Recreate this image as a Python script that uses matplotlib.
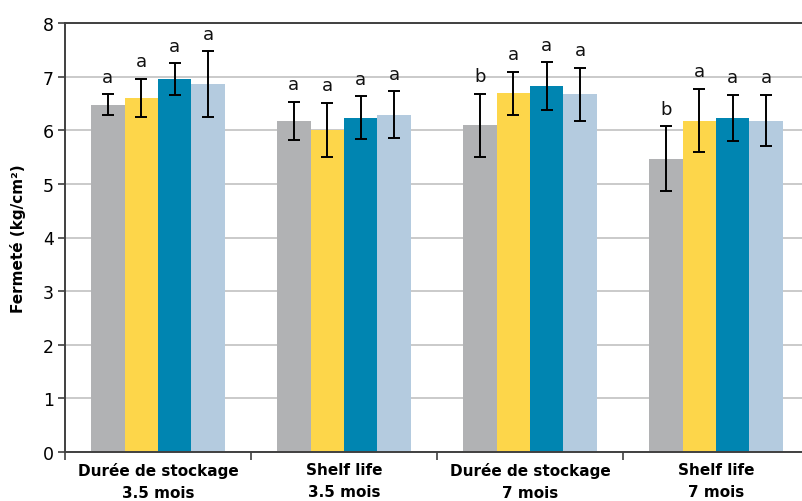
import numpy as np
import matplotlib.pyplot as plt

# fermeté moyenne par traitement (4 séries) et par période
categories = ["Durée de stockage\n3.5 mois", "Shelf life\n3.5 mois",
              "Durée de stockage\n7 mois", "Shelf life\n7 mois"]
serie1 = [6.48, 6.17, 6.09, 5.47]
serie2 = [6.60, 6.01, 6.69, 6.18]
serie3 = [6.95, 6.23, 6.82, 6.23]
serie4 = [6.86, 6.29, 6.67, 6.18]
err1 = [0.19, 0.36, 0.59, 0.60]
err2 = [0.36, 0.50, 0.40, 0.59]
err3 = [0.30, 0.40, 0.45, 0.43]
err4 = [0.61, 0.44, 0.50, 0.48]
lettres = [["a", "a", "a", "a"],
           ["a", "a", "a", "a"],
           ["b", "a", "a", "a"],
           ["b", "a", "a", "a"]]

series = [serie1, serie2, serie3, serie4]
errs = [err1, err2, err3, err4]
colors = ["#B1B2B4", "#FDD64A", "#0085B1", "#B4CBDF"]

fig = plt.figure(figsize=(8.03, 5.02), dpi=100)
ax = fig.add_axes([65/803, 1-453/502, (809-65)/803, (453-24)/502])

x = np.arange(len(categories))
w = 0.18
for i in range(4):
    pos = x + (i-1.5)*w
    ax.bar(pos, series[i], w, color=colors[i], zorder=2)
    ax.errorbar(pos, series[i], yerr=errs[i], fmt="none", ecolor="black",
                elinewidth=1.4, capsize=4, capthick=1.4, zorder=3)
    for j in range(len(categories)):
        ax.text(pos[j], series[i][j]+errs[i][j]+0.16, lettres[j][i],
                ha="center", va="bottom", fontsize=13, color="#111111")

ax.set_xlim(-0.5, 3.5)
ax.set_ylim(0, 8)
ax.set_yticks(range(0, 9))
ax.tick_params(axis="y", direction="out", length=5, width=1.2, color="#404040",
               labelsize=12.5, pad=3)
ax.yaxis.grid(True, color="#C6C6C6", linewidth=1.3, zorder=0)

# séparateurs entre catégories, libellés centrés
ax.set_xticks(np.arange(-0.5, 3.6, 1))
ax.set_xticklabels([])
ax.set_xticks(x, minor=True)
ax.set_xticklabels(categories, minor=True, fontsize=11, fontweight="bold",
                   linespacing=1.6)
ax.tick_params(axis="x", which="major", direction="out", length=6, width=1.2,
               color="#404040")
ax.tick_params(axis="x", which="minor", length=0, pad=7)

for s in ["left", "bottom", "top"]:
    ax.spines[s].set_color("#404040")
    ax.spines[s].set_linewidth(1.4)
ax.spines["right"].set_visible(False)

ax.set_ylabel("Fermeté (kg/cm²)", fontsize=11, fontweight="bold", labelpad=12)

fig.savefig("out.png", dpi=100)
